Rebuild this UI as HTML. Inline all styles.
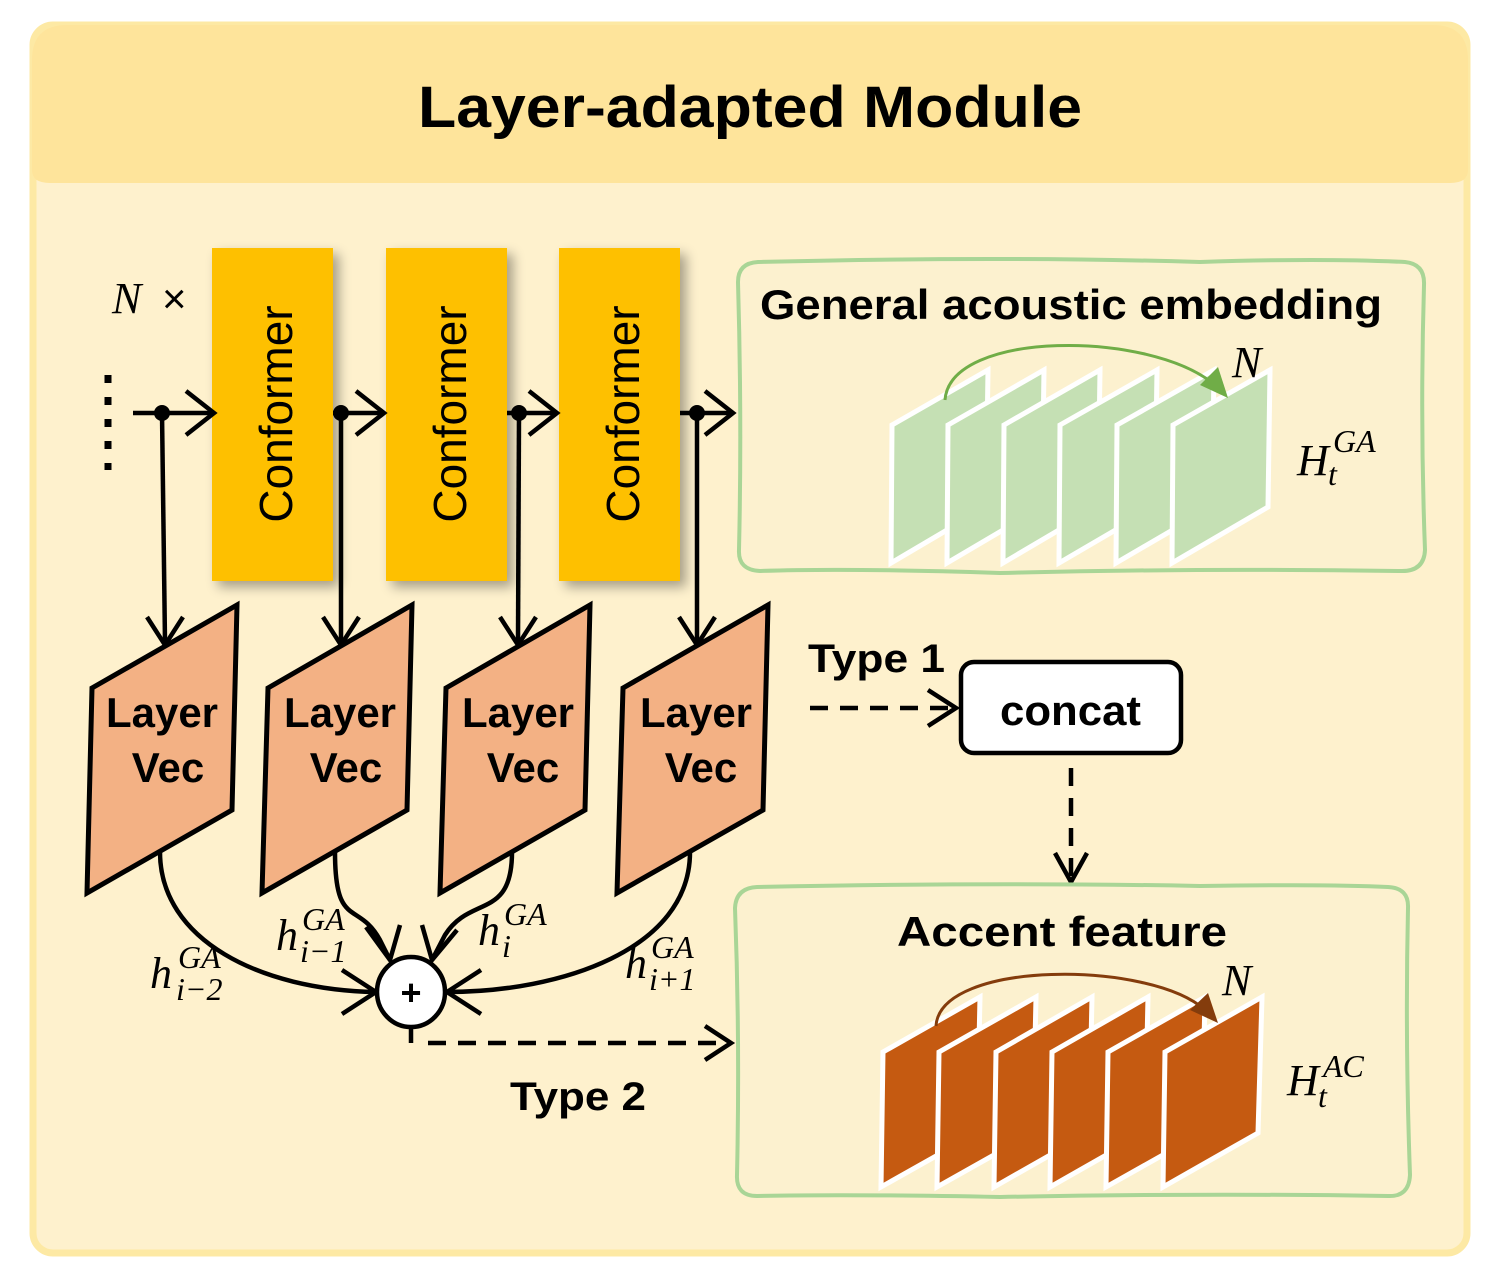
<!DOCTYPE html>
<html><head><meta charset="utf-8"><style>
html,body{margin:0;padding:0;background:#fff;}
svg{display:block;}
.b{font-family:"Liberation Sans",sans-serif;font-weight:bold;}
.m{font-family:"Liberation Serif",serif;font-style:italic;}
</style></head><body>
<svg width="1493" height="1278" viewBox="0 0 1493 1278" xmlns="http://www.w3.org/2000/svg">
<defs>
<filter id="sh" x="-20%" y="-10%" width="150%" height="130%"><feGaussianBlur in="SourceAlpha" stdDeviation="6"/><feOffset dx="6" dy="6"/><feComponentTransfer><feFuncA type="linear" slope="0.35"/></feComponentTransfer><feMerge><feMergeNode/><feMergeNode in="SourceGraphic"/></feMerge></filter>
</defs>
<rect x="0" y="0" width="1493" height="1278" fill="#fff"/>
<rect x="33" y="25" width="1434" height="1228" rx="20" fill="#fef1cd" stroke="#fde9a4" stroke-width="7"/>
<path d="M32,60 Q32,25 67,25 L1433,25 Q1468,25 1468,60 L1468,170 Q1468,183 1450,183 L50,183 Q32,183 32,170 Z" fill="#fee49b"/>
<text x="418" y="127" class="b" font-size="58" textLength="664" lengthAdjust="spacingAndGlyphs" fill="#000">Layer-adapted Module</text>

<!-- N x -->
<text x="112" y="313" class="m" font-size="44">N</text>
<text x="162" y="313" font-family="Liberation Sans" font-size="42">×</text>
<line x1="108" y1="375" x2="108" y2="470" stroke="#000" stroke-width="7" stroke-dasharray="8,14"/>

<!-- conformers -->
<g filter="url(#sh)" fill="#fec000">
<rect x="212" y="248" width="121" height="333"/>
<rect x="386" y="248" width="121" height="333"/>
<rect x="559" y="248" width="121" height="333"/>
</g>
<g font-family="Liberation Sans" font-size="46" fill="#000" text-anchor="middle">
<text transform="translate(292,414) rotate(-90)">Conformer</text>
<text transform="translate(466,414) rotate(-90)">Conformer</text>
<text transform="translate(639,414) rotate(-90)">Conformer</text>
</g>

<!-- main arrows -->
<g stroke="#000" stroke-width="4.5" fill="none">
<line x1="133" y1="413" x2="214" y2="413"/><polyline points="186,391 214,413 186,435"/>
<line x1="333" y1="413" x2="384" y2="413"/><polyline points="356,391 384,413 356,435"/>
<line x1="507" y1="413" x2="557" y2="413"/><polyline points="529,391 557,413 529,435"/>
<line x1="680" y1="413" x2="733" y2="413"/><polyline points="705,391 733,413 705,435"/>
<line x1="162" y1="413" x2="165" y2="642"/><polyline points="147,617 165,645 183,617"/>
<line x1="341" y1="413" x2="341" y2="642"/><polyline points="323,617 341,645 359,617"/>
<line x1="519" y1="413" x2="518" y2="642"/><polyline points="500,617 518,645 536,617"/>
<line x1="697" y1="413" x2="697" y2="642"/><polyline points="679,617 697,645 715,617"/>
</g>
<g fill="#000"><circle cx="162" cy="413" r="8"/><circle cx="341" cy="413" r="8"/><circle cx="519" cy="413" r="8"/><circle cx="697" cy="413" r="8"/></g>

<!-- Layer Vec -->
<g fill="#f3b184" stroke="#000" stroke-width="5" stroke-linejoin="miter">
<polygon points="92,688 237,605 232,810 87,893"/>
<polygon points="268,688 412,605 407,810 262,893"/>
<polygon points="446,688 590,605 585,810 440,893"/>
<polygon points="623,688 768,605 763,810 617,893"/>
</g>
<g class="b" font-size="42" fill="#000" text-anchor="middle">
<text x="162" y="727">Layer</text><text x="168" y="782">Vec</text>
<text x="340" y="727">Layer</text><text x="346" y="782">Vec</text>
<text x="518" y="727">Layer</text><text x="523" y="782">Vec</text>
<text x="696" y="727">Layer</text><text x="701" y="782">Vec</text>
</g>

<!-- curves to plus -->
<g stroke="#000" stroke-width="4.5" fill="none">
<path d="M160,852 C160,940 260,990 376,992"/>
<polyline points="342,970 376,992 342,1014"/>
<path d="M335,852 C335,930 358,900 380,940 L390,960"/>
<polyline points="366,927 390,960 400,925"/>
<path d="M512,852 C512,920 470,895 445,935 L432,960"/>
<polyline points="422,925 432,960 457,930"/>
<path d="M690,852 C690,950 560,992 447,992"/>
<polyline points="481,970 447,992 481,1014"/>
</g>
<ellipse cx="411" cy="992" rx="34" ry="35" fill="#fff" stroke="#000" stroke-width="4.5"/>
<text x="411" y="1005" text-anchor="middle" font-family="Liberation Sans" font-size="36" font-weight="bold">+</text>

<g class="m" fill="#000">
<text x="150" y="988" font-size="44">h</text><text x="178" y="968" font-size="32">GA</text><text x="176" y="1000" font-size="32">i−2</text>
<text x="276" y="950" font-size="44">h</text><text x="302" y="930" font-size="32">GA</text><text x="300" y="962" font-size="32">i−1</text>
<text x="478" y="945" font-size="44">h</text><text x="504" y="925" font-size="32">GA</text><text x="502" y="957" font-size="32">i</text>
<text x="625" y="978" font-size="44">h</text><text x="651" y="958" font-size="32">GA</text><text x="649" y="990" font-size="32">i+1</text>
</g>

<!-- Type 2 -->
<g stroke="#000" stroke-width="4.5" fill="none">
<line x1="411" y1="1028" x2="411" y2="1043"/>
<line x1="428" y1="1043" x2="730" y2="1043" stroke-dasharray="18,12"/>
<polyline points="705,1026 731,1043 705,1060"/>
</g>
<text x="510" y="1110" class="b" font-size="40" textLength="136" lengthAdjust="spacingAndGlyphs">Type 2</text>

<!-- Type 1 / concat -->
<text x="808" y="672" class="b" font-size="40" textLength="137" lengthAdjust="spacingAndGlyphs">Type 1</text>
<g stroke="#000" stroke-width="4.5" fill="none">
<line x1="810" y1="708" x2="955" y2="708" stroke-dasharray="18,12"/>
<polyline points="928,690 956,708 928,726"/>
<line x1="1071" y1="768" x2="1071" y2="880" stroke-dasharray="18,12"/>
<polyline points="1055,853 1071,882 1087,853"/>
</g>
<rect x="961" y="662" width="220" height="91" rx="13" fill="#fff" stroke="#000" stroke-width="4.5"/>
<text x="1000" y="725" class="b" font-size="42" textLength="141" lengthAdjust="spacingAndGlyphs">concat</text>

<!-- green boxes -->
<path d="M758,262 Q1000,256 1200,262 Q1320,258 1405,262 Q1425,264 1424,285 Q1420,420 1425,550 Q1424,572 1400,571 Q1200,568 1000,573 Q850,568 760,571 Q738,570 739,550 Q742,420 738,282 Q738,263 758,262 Z" fill="#fcf1cf" stroke="#a9d596" stroke-width="4"/>
<text x="760" y="319" class="b" font-size="42" textLength="622" lengthAdjust="spacingAndGlyphs">General acoustic embedding</text>
<path d="M757,887 Q1000,882 1200,886 Q1330,884 1388,887 Q1409,888 1408,908 Q1405,1040 1410,1175 Q1409,1197 1388,1196 Q1200,1193 1000,1197 Q850,1194 757,1196 Q736,1196 737,1175 Q740,1040 735,908 Q736,888 757,887 Z" fill="#fcf1cf" stroke="#a9d596" stroke-width="4"/>
<text x="897" y="946" class="b" font-size="42" textLength="330" lengthAdjust="spacingAndGlyphs">Accent feature</text>

<!-- green slabs -->
<g fill="#c5e0b4" stroke="#fff" stroke-width="5">
<polygon points="892,425 988,370 986,507 891,563"/>
<polygon points="948,425 1044,370 1042,507 947,563"/>
<polygon points="1004,425 1100,370 1098,507 1003,563"/>
<polygon points="1060,425 1157,370 1155,507 1059,563"/>
<polygon points="1117,425 1214,370 1212,507 1116,563"/>
<polygon points="1173,425 1270,370 1268,507 1172,563"/>
</g>
<path d="M945,400 C950,330 1150,330 1215,385" stroke="#70ad47" stroke-width="3" fill="none"/>
<polygon points="1228,398 1200,385 1218,367" fill="#70ad47"/>
<text x="1232" y="377" class="m" font-size="44">N</text>
<text x="1297" y="475" class="m" font-size="44">H</text><text x="1333" y="452" class="m" font-size="32">GA</text><text x="1328" y="485" class="m" font-size="32">t</text>

<!-- orange slabs -->
<g fill="#c55a11" stroke="#fff" stroke-width="5">
<polygon points="883,1052 980,997 977,1133 881,1187"/>
<polygon points="939,1052 1036,997 1033,1133 937,1187"/>
<polygon points="996,1052 1092,997 1089,1133 994,1187"/>
<polygon points="1052,1052 1148,997 1145,1133 1050,1187"/>
<polygon points="1108,1052 1205,997 1202,1133 1106,1187"/>
<polygon points="1165,1052 1262,997 1258,1133 1163,1187"/>
</g>
<path d="M936,1026 C940,960 1150,960 1205,1010" stroke="#843c0c" stroke-width="3" fill="none"/>
<polygon points="1218,1023 1190,1010 1208,993" fill="#843c0c"/>
<text x="1222" y="995" class="m" font-size="44">N</text>
<text x="1287" y="1095" class="m" font-size="44">H</text><text x="1323" y="1077" class="m" font-size="32">AC</text><text x="1318" y="1107" class="m" font-size="32">t</text>
</svg>
</body></html>
